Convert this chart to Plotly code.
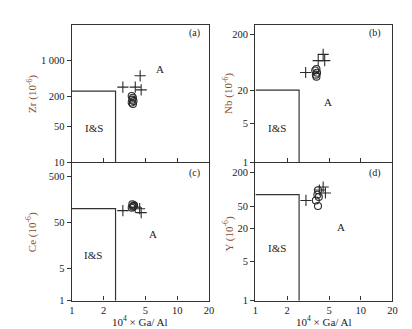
import plotly.graph_objects as go
import math

# ---------------- data ----------------
x_ticks = [1, 2, 5, 10, 20]

# (a) Zr
a_cross_x = [4.45, 3.05, 4.0, 4.55]
a_cross_y = [500, 300, 300, 265]
a_circ_x = [3.7, 3.8, 3.75, 3.85, 3.7, 3.8]
a_circ_y = [200, 185, 170, 160, 150, 140]
a_ticks = [10, 50, 200, 1000]
a_ticktext = ["10", "50", "200", "1 000"]
a_range = [10, 5000]
a_bound = 250

# (b) Nb
b_cross_x = [4.4, 3.95, 4.55, 3.0]
b_cross_y = [88, 68, 68, 41.5]
b_circ_x = [3.8, 3.7, 3.85, 3.75, 3.8]
b_circ_y = [48, 45, 41, 38, 35]
b_ticks = [1, 5, 20, 200]
b_range = [1, 300]
b_bound = 20

# (c) Ce
c_cross_x = [3.05, 4.0, 4.4, 4.55]
c_cross_y = [91, 108, 100, 82]
c_circ_x = [3.75, 3.9, 3.8, 3.7, 3.85]
c_circ_y = [125, 118, 110, 105, 115]
c_ticks = [1, 5, 50, 500]
c_range = [1, 1000]
c_bound = 100

# (d) Y
d_cross_x = [3.02, 4.4, 4.62, 4.05]
d_cross_y = [63, 110, 86, 97]
d_circ_x = [3.93, 3.88, 4.0, 3.75, 3.93]
d_circ_y = [96, 80, 73, 63, 50]
d_ticks = [1, 5, 20, 50, 200]
d_range = [1, 300]
d_bound = 80

gaal_bound = 2.6
x_range = [1, 20]

panels = [
    dict(k="", cx=a_cross_x, cy=a_cross_y, ox=a_circ_x, oy=a_circ_y, ticks=a_ticks,
         ticktext=a_ticktext, rng=a_range, bound=a_bound, lab="(a)", el="Zr"),
    dict(k="2", cx=b_cross_x, cy=b_cross_y, ox=b_circ_x, oy=b_circ_y, ticks=b_ticks,
         ticktext=[str(v) for v in b_ticks], rng=b_range, bound=b_bound, lab="(b)", el="Nb"),
    dict(k="3", cx=c_cross_x, cy=c_cross_y, ox=c_circ_x, oy=c_circ_y, ticks=c_ticks,
         ticktext=[str(v) for v in c_ticks], rng=c_range, bound=c_bound, lab="(c)", el="Ce"),
    dict(k="4", cx=d_cross_x, cy=d_cross_y, ox=d_circ_x, oy=d_circ_y, ticks=d_ticks,
         ticktext=[str(v) for v in d_ticks], rng=d_range, bound=d_bound, lab="(d)", el="Y"),
]

# layout geometry
xdoms = [[0.1505, 0.490], [0.605, 0.944], [0.1505, 0.490], [0.605, 0.944]]
ydoms = [[0.522, 0.948], [0.522, 0.948], [0.094, 0.521], [0.094, 0.521]]
# text positions in axis-domain fractions: (A), (I&S), (label)
txtpos = [
    [(0.641, 0.681), (0.164, 0.252), (0.891, 0.943)],
    [(0.529, 0.436), (0.155, 0.252), (0.874, 0.943)],
    [(0.593, 0.486), (0.152, 0.331), (0.891, 0.926)],
    [(0.624, 0.534), (0.155, 0.379), (0.874, 0.926)],
]
ytitle_pos = [(0.0527, 0.735), (0.538, 0.735), (0.0527, 0.307), (0.538, 0.300)]

FONT = "Liberation Serif"
LINE = "#333333"
MK = "#2a2a2a"

fig = go.Figure()
layout = dict(
    width=412, height=329,
    margin=dict(l=0, r=0, t=0, b=0),
    paper_bgcolor="white", plot_bgcolor="white",
    showlegend=False,
    font=dict(family=FONT, size=11, color="#222222"),
)
annotations = []

for i, p in enumerate(panels):
    k = p["k"]
    xa, ya = "x" + k, "y" + k
    # boundary of I&S field
    fig.add_trace(go.Scatter(
        x=[x_range[0], gaal_bound, gaal_bound],
        y=[p["bound"], p["bound"], p["rng"][0]],
        mode="lines", line=dict(color=LINE, width=1.2),
        xaxis=xa, yaxis=ya, hoverinfo="skip", cliponaxis=False))
    # circles
    fig.add_trace(go.Scatter(
        x=p["ox"], y=p["oy"], mode="markers",
        marker=dict(symbol="circle-open", size=7, color=MK, line=dict(width=1.1, color=MK)),
        xaxis=xa, yaxis=ya))
    # crosses
    fig.add_trace(go.Scatter(
        x=p["cx"], y=p["cy"], mode="markers",
        marker=dict(symbol="cross-thin-open", size=8, color=MK, line=dict(width=1.1, color=MK)),
        xaxis=xa, yaxis=ya))

    bottom = i >= 2
    xkey = "xaxis" + k
    ykey = "yaxis" + k
    layout[xkey] = dict(
        type="log", range=[math.log10(x_range[0]), math.log10(x_range[1])],
        domain=xdoms[i], anchor=ya,
        showline=True, mirror=True, linecolor=LINE, linewidth=1.4,
        showgrid=False, zeroline=False,
        ticks="inside", ticklen=4, tickcolor=LINE, tickwidth=1,
        tickvals=x_ticks if bottom else [2, 5, 10],
        ticktext=[str(v) for v in x_ticks] if bottom else ["2", "5", "10"],
        showticklabels=bottom,
        tickfont=dict(family=FONT, size=10.5, color="#222222"),
    )
    layout[ykey] = dict(
        type="log", range=[math.log10(p["rng"][0]), math.log10(p["rng"][1])],
        domain=ydoms[i], anchor=xa,
        showline=True, mirror=True, linecolor=LINE, linewidth=1.4,
        showgrid=False, zeroline=False,
        ticks="outside", ticklen=4, tickcolor=LINE, tickwidth=1,
        tickvals=p["ticks"], ticktext=p["ticktext"],
        tickfont=dict(family=FONT, size=10.5, color="#222222"),
    )
    (ax_, ay_), (ix_, iy_), (lx_, ly_) = txtpos[i]
    dref_x = ("x" + k) + " domain"
    dref_y = ("y" + k) + " domain"
    for (tx, ty, t) in [(ax_, ay_, "A"), (ix_, iy_, "I&amp;S"), (lx_, ly_, p["lab"])]:
        annotations.append(dict(
            x=tx, y=ty, xref=dref_x, yref=dref_y, text=t, showarrow=False,
            font=dict(family=FONT, size=11 if t != p["lab"] else 10, color="#222222"),
            xanchor="center", yanchor="middle"))
    tx, ty = ytitle_pos[i]
    annotations.append(dict(
        x=tx, y=ty, xref="paper", yref="paper",
        text=p["el"] + " (10<sup>-6</sup>)", textangle=-90, showarrow=False,
        font=dict(family=FONT, size=11, color="#8a4a2a"),
        xanchor="center", yanchor="middle"))

for cx in [(0.1505 + 0.490) / 2, (0.605 + 0.944) / 2]:
    annotations.append(dict(
        x=cx, y=0.030, xref="paper", yref="paper",
        text="10<sup>4</sup> × Ga/ Al", showarrow=False,
        font=dict(family=FONT, size=11, color="#222222"),
        xanchor="center", yanchor="middle"))

layout["annotations"] = annotations
fig.update_layout(**layout)
fig.write_html("out.html")
